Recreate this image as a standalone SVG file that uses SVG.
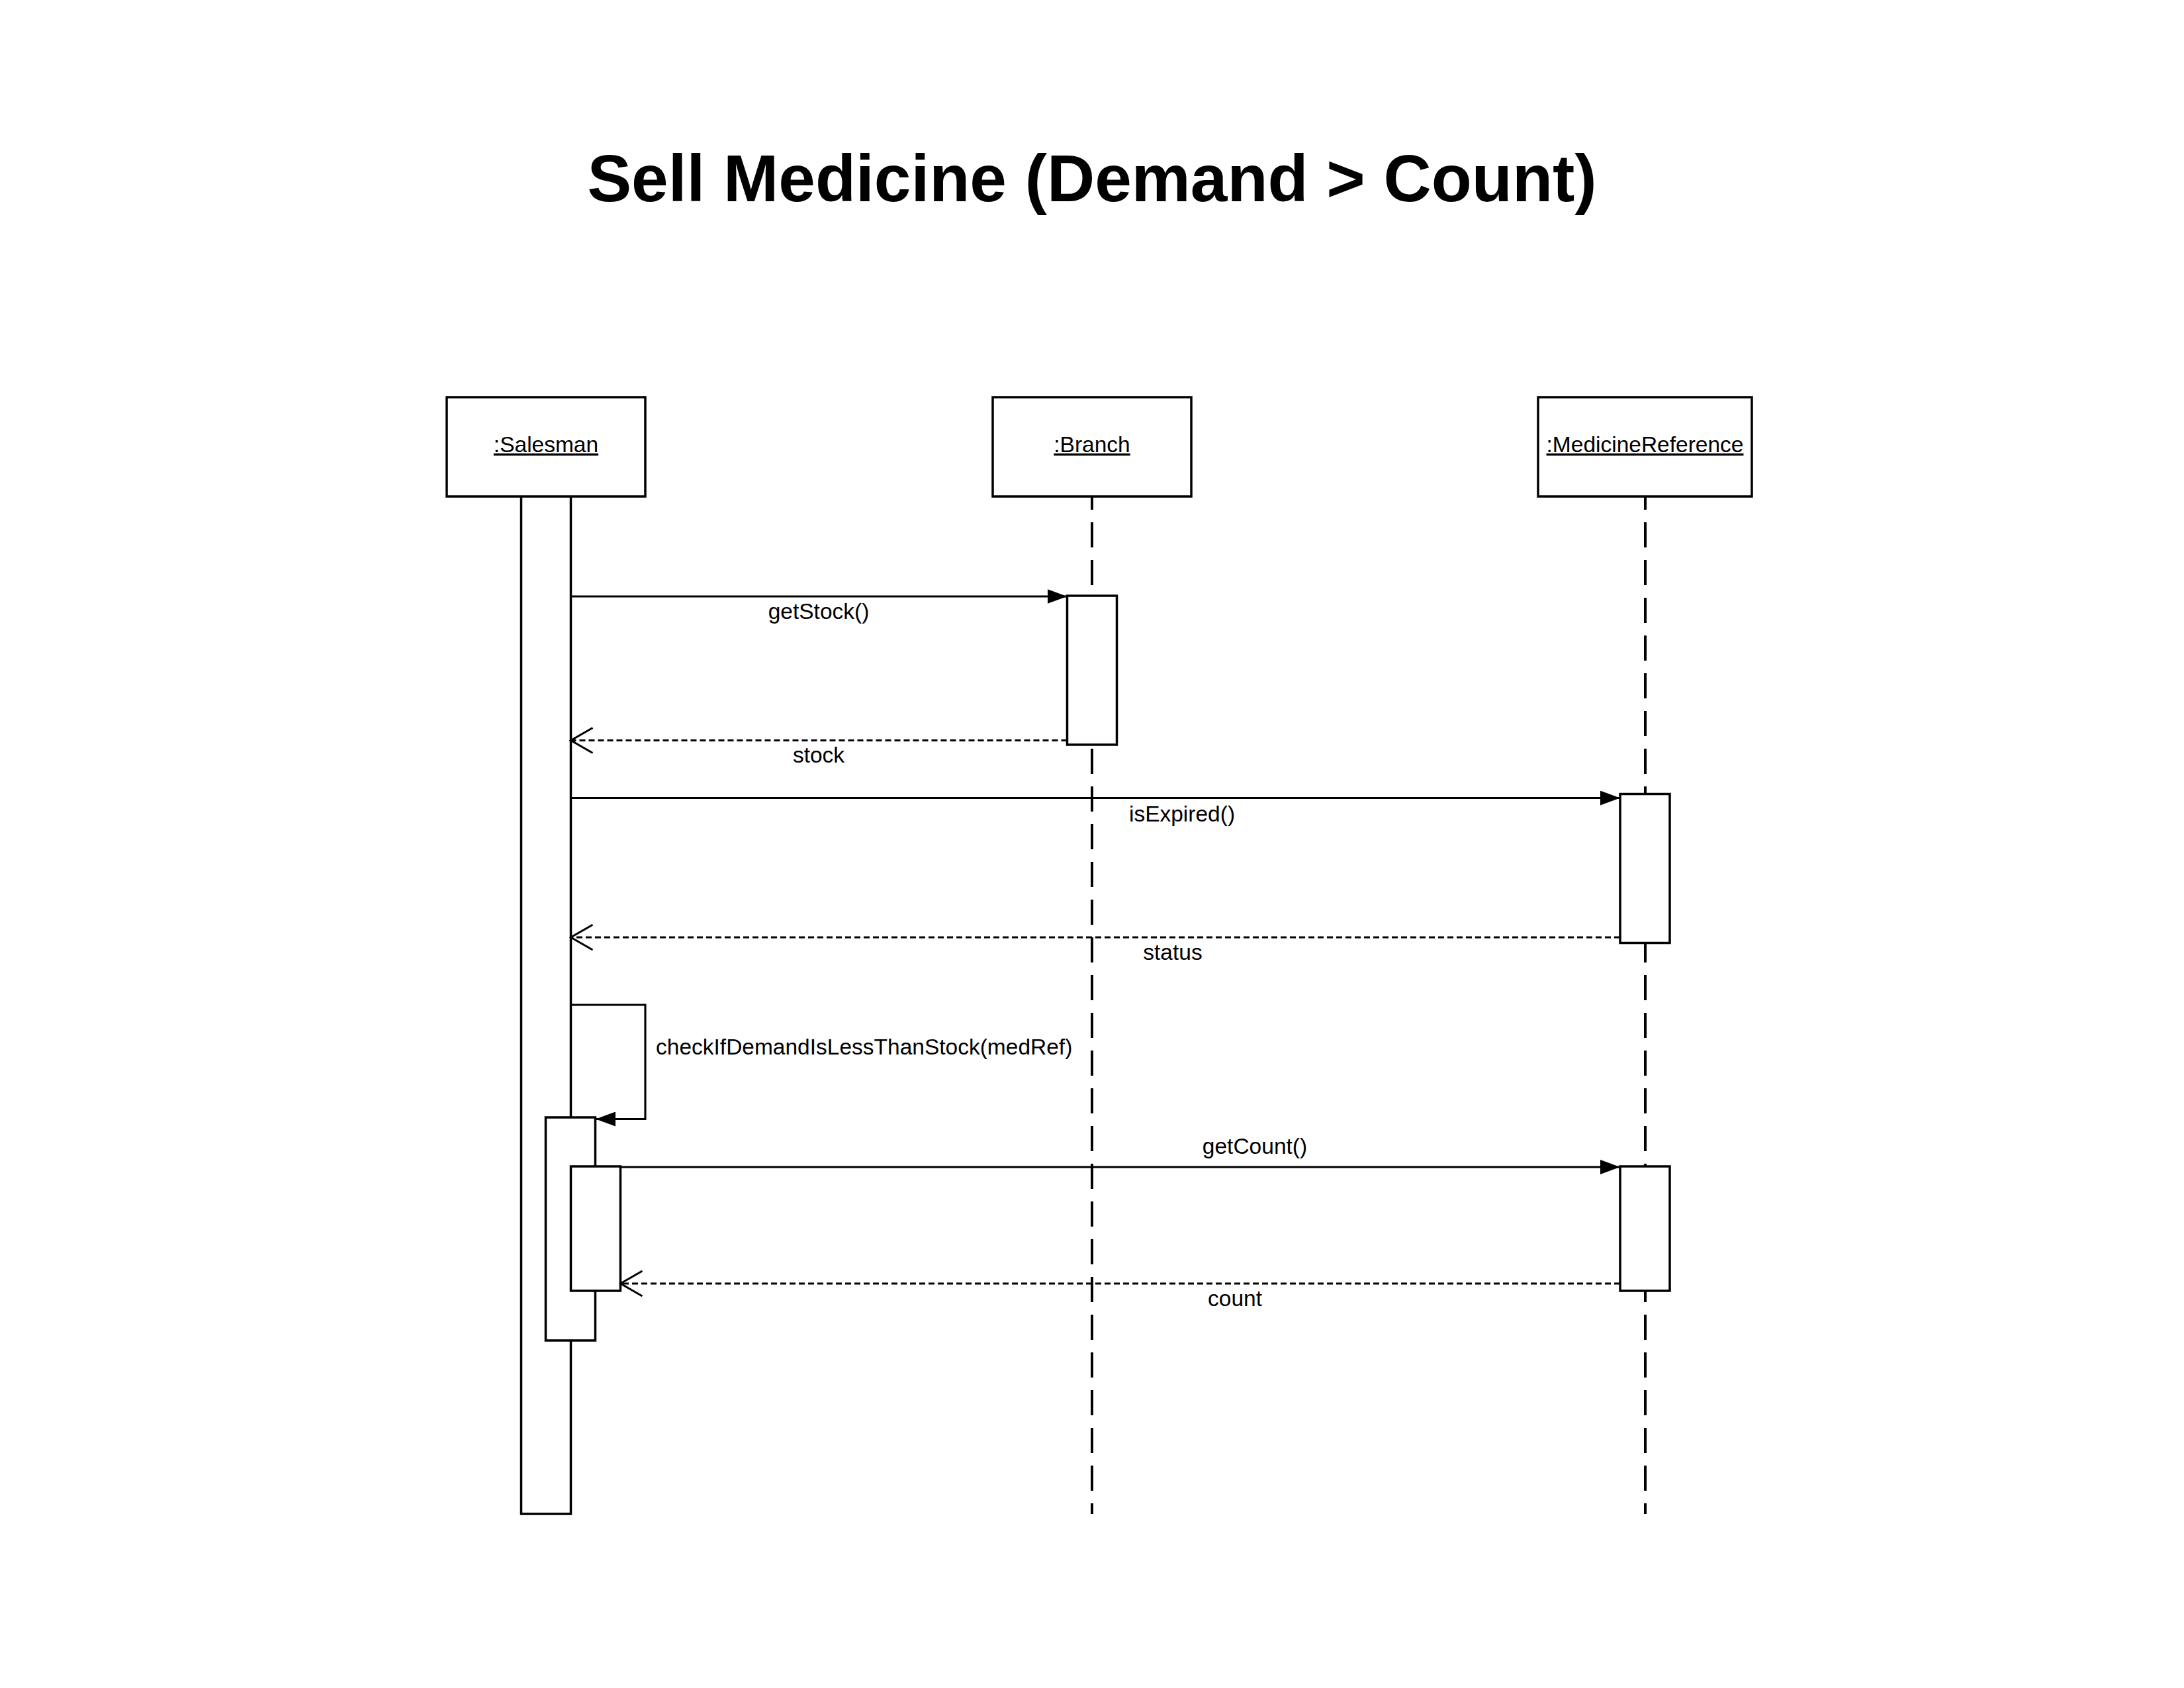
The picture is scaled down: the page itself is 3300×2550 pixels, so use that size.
<svg xmlns="http://www.w3.org/2000/svg" width="3300" height="2550" viewBox="0 0 3300 2550">
<style>
.box{fill:#fff;stroke:#000;stroke-width:3.5}
.life{stroke:#000;stroke-width:4;stroke-dasharray:38 19;fill:none}
.msg{stroke:#000;stroke-width:3.1;fill:none}
.ret{stroke:#000;stroke-width:3.1;fill:none;stroke-dasharray:9 5}
.lbl{font-family:"Liberation Sans",Arial,sans-serif;font-size:33.5px;fill:#000}
.name{font-family:"Liberation Sans",Arial,sans-serif;font-size:33.5px;fill:#000;text-decoration:underline;text-anchor:middle}
.title{font-family:"Liberation Sans",Arial,sans-serif;font-size:100px;font-weight:bold;fill:#000;text-anchor:middle}
</style>
<defs>
<marker id="filled" viewBox="0 0 30 22" refX="30" refY="11" markerWidth="30" markerHeight="22" markerUnits="userSpaceOnUse" orient="auto">
<path d="M0,0 L30,11 L0,22 Z" fill="#000"/>
</marker>
<marker id="open" viewBox="0 0 40 44" refX="37" refY="22" markerWidth="40" markerHeight="44" markerUnits="userSpaceOnUse" orient="auto">
<path d="M4,3 L37,22 L4,41" fill="none" stroke="#000" stroke-width="3.1"/>
</marker>
</defs>
<rect width="3300" height="2550" fill="#fff"/>
<text class="title" x="1650" y="304">Sell Medicine (Demand &gt; Count)</text>

<g id="lifelines">
<line class="life" x1="1650" y1="675" x2="1650" y2="2287"/>
<line class="life" x1="2486" y1="675" x2="2486" y2="2287"/>
</g>

<g id="salesman">
<rect class="box" x="787.5" y="675" width="75" height="1612"/>
<rect class="box" x="675" y="600" width="300" height="150"/>
<text class="name" x="825" y="683">:Salesman</text>
</g>

<g id="branch">
<rect class="box" x="1500" y="600" width="300" height="150"/>
<text class="name" x="1650" y="683">:Branch</text>
<rect class="box" x="1612.5" y="900" width="75" height="225"/>
</g>

<g id="medicineReference">
<rect class="box" x="2324" y="600" width="323" height="150"/>
<text class="name" x="2485.5" y="683">:MedicineReference</text>
<rect class="box" x="2448" y="1199.5" width="75" height="225"/>
<rect class="box" x="2448" y="1762" width="75" height="188"/>
</g>

<g id="salesman-activations">
<rect class="box" x="824.5" y="1688" width="75" height="337"/>
<rect class="box" x="862.5" y="1762" width="75" height="188"/>
</g>

<g id="connectors">
<line class="msg" x1="862.5" y1="901" x2="1612.5" y2="901" marker-end="url(#filled)"/>
<line class="ret" x1="1612.5" y1="1118.5" x2="862.5" y2="1118.5" marker-end="url(#open)"/>
<line class="msg" x1="862.5" y1="1205.5" x2="2448" y2="1205.5" marker-end="url(#filled)"/>
<line class="ret" x1="2448" y1="1416" x2="862.5" y2="1416" marker-end="url(#open)"/>
<polyline class="msg" points="862.5,1518 975,1518 975,1690.5 900,1690.5" marker-end="url(#filled)"/>
<line class="msg" x1="937.5" y1="1763" x2="2448" y2="1763" marker-end="url(#filled)"/>
<line class="ret" x1="2448" y1="1939" x2="937.5" y2="1939" marker-end="url(#open)"/>
</g>

<g id="labels">
<text class="lbl" x="1237" y="935" text-anchor="middle">getStock()</text>
<text class="lbl" x="1237" y="1152" text-anchor="middle">stock</text>
<text class="lbl" x="1786" y="1241" text-anchor="middle">isExpired()</text>
<text class="lbl" x="1772" y="1450" text-anchor="middle">status</text>
<text class="lbl" x="991" y="1593">checkIfDemandIsLessThanStock(medRef)</text>
<text class="lbl" x="1896" y="1743" text-anchor="middle">getCount()</text>
<text class="lbl" x="1866" y="1973" text-anchor="middle">count</text>
</g>
</svg>
